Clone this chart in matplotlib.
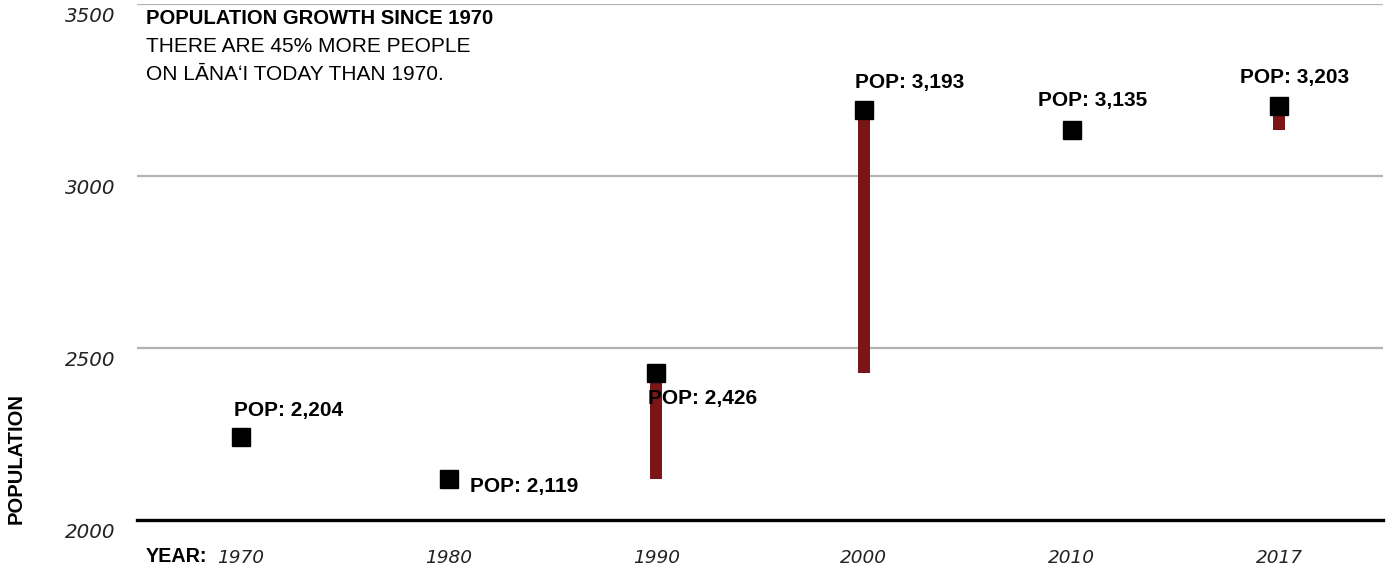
import numpy as np
import matplotlib.pyplot as plt
from matplotlib import transforms

plt.rcParams['font.family'] = ['Liberation Sans', 'DejaVu Sans']

years = ['1970', '1980', '1990', '2000', '2010', '2017']
population = [2240, 2119, 2426, 3193, 3135, 3203]
pop_labels = ['2,204', '2,119', '2,426', '3,193', '3,135', '3,203']
yticks = [2000, 2500, 3000, 3500]

# label offsets in pixels (dx, dy) from each square
offsets = [(-7, 27), (21, -7), (-8, -25), (-9, 27), (-34, 29), (-39, 29)]

fig = plt.figure(figsize=(13.88, 5.71), dpi=100)
ax = fig.add_axes([137 / 1388, 1 - 520 / 571, (1383 - 137) / 1388, 516 / 571])

x = np.arange(len(years))
ax.set_xlim(-0.5, len(years) - 0.5)
ax.set_ylim(2000, 3500)

for t in yticks[1:]:
    ax.axhline(t, color='#b3b3b3', lw=1.6, zorder=1)
ax.axhline(2000, color='black', lw=2.4, zorder=2, clip_on=False)

# red bars for increases over the previous point
for i in range(1, len(population)):
    diff = population[i] - population[i - 1]
    if diff > 0:
        ax.bar(x[i], diff, bottom=population[i - 1], width=0.058,
               color='#7b1518', zorder=3)

ax.plot(x, population, 's', color='black', markersize=12.5, zorder=4, ls='none')

for i in range(len(years)):
    ax.annotate('POP: ' + pop_labels[i], (x[i], population[i]),
                xytext=offsets[i], textcoords='offset pixels',
                ha='left', va='center', fontsize=15, fontweight='bold', zorder=5)

for s in ax.spines.values():
    s.set_visible(False)
ax.set_xticks([])
ax.set_yticks([])

# y tick labels, a little below each line
trans = transforms.offset_copy(ax.get_yaxis_transform(), fig=fig, x=-22, y=-12, units='dots')
for t in yticks:
    ax.text(0, t, str(t), transform=trans, ha='right', va='center',
            fontsize=14.3, fontstyle='italic', family='DejaVu Sans', color='#222222')

# x tick labels
xt = transforms.offset_copy(ax.get_xaxis_transform(), fig=fig, y=-38, units='dots')
for i, yr in enumerate(years):
    ax.text(x[i], 0, yr, transform=xt, ha='center', va='center',
            fontsize=13.3, fontstyle='italic', family='DejaVu Sans', color='#222222')
fig.text(146 / 1388, 1 - 557 / 571, 'YEAR:', ha='left', va='center',
         fontsize=14.2, fontweight='bold')

fig.text(16 / 1388, 1 - 459 / 571, 'POPULATION', rotation=90, ha='center', va='center',
         fontsize=14.5, fontweight='bold')

fig.text(146 / 1388, 1 - 18 / 571, 'POPULATION GROWTH SINCE 1970', ha='left', va='center',
         fontsize=14.6, fontweight='bold')
fig.text(146 / 1388, 1 - 47 / 571, 'THERE ARE 45% MORE PEOPLE', ha='left', va='center',
         fontsize=15)
fig.text(146 / 1388, 1 - 75 / 571, 'ON LĀNAʻI TODAY THAN 1970.', ha='left', va='center',
         fontsize=15)

plt.savefig('out.png', dpi=100)
